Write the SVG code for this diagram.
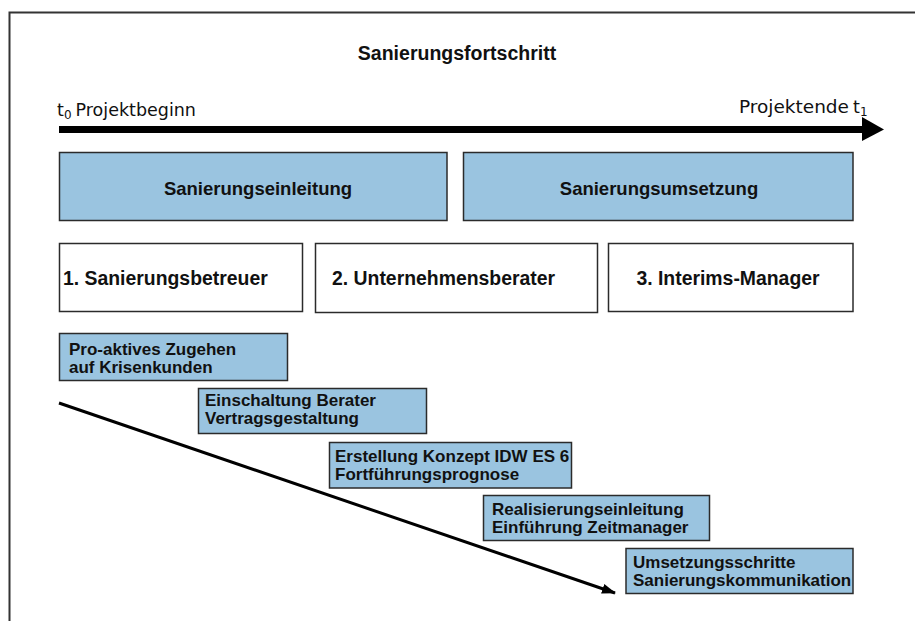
<svg xmlns="http://www.w3.org/2000/svg" width="915" height="621" viewBox="0 0 915 621">
<defs>
<style>
.bold{font-family:"Liberation Sans",Arial,sans-serif;font-weight:bold;fill:#111;}
.reg{font-family:"DejaVu Sans","Liberation Sans",sans-serif;fill:#111;}
.blue{fill:#9AC4E0;stroke:#2b2b2b;stroke-width:1.5;}
.white{fill:#fff;stroke:#2b2b2b;stroke-width:1.5;}
.step{font-size:17px;}
</style>
<marker id="ah" viewBox="0 0 14 10" refX="13" refY="5" markerWidth="14" markerHeight="10" markerUnits="userSpaceOnUse" orient="auto">
<path d="M0,0 L14,5 L0,10 z" fill="#000"/>
</marker>
</defs>
<rect width="915" height="621" fill="#fff"/>
<path d="M9.5,621 V12.5 H915" fill="none" stroke="#333" stroke-width="2"/>

<g id="title">
<text class="bold" x="457" y="60" font-size="19.5" text-anchor="middle">Sanierungsfortschritt</text>
</g>

<g id="timeline">
<rect x="59" y="126" width="806" height="7" fill="#000"/>
<polygon points="862,117 884,129.5 862,141" fill="#000"/>
<text class="reg" x="57" y="116" font-size="17.5">t<tspan font-size="12" dy="3">0</tspan><tspan dy="-3" dx="4">Projektbeginn</tspan></text>
<text class="reg" x="849" y="113" font-size="18.5" text-anchor="end">Projektende</text>
<text class="reg" x="853" y="113" font-size="17.5">t<tspan font-size="12" dy="3">1</tspan></text>
</g>

<g id="phase1">
<rect class="blue" x="59.5" y="152.5" width="387.5" height="68"/>
<text class="bold" x="258" y="195" font-size="18.5" text-anchor="middle">Sanierungseinleitung</text>
</g>
<g id="phase2">
<rect class="blue" x="463.5" y="152.5" width="389.5" height="68"/>
<text class="bold" x="659" y="195" font-size="18.5" text-anchor="middle">Sanierungsumsetzung</text>
</g>

<g id="role1">
<rect class="white" x="59.5" y="243.5" width="243" height="68"/>
<text class="bold" x="63" y="285" font-size="19.4">1. Sanierungsbetreuer</text>
</g>
<g id="role2">
<rect class="white" x="315.5" y="243.5" width="282" height="69"/>
<text class="bold" x="332" y="285" font-size="19.4">2. Unternehmensberater</text>
</g>
<g id="role3">
<rect class="white" x="608.5" y="243.5" width="244.5" height="68"/>
<text class="bold" x="728" y="285" font-size="19.4" text-anchor="middle">3. Interims-Manager</text>
</g>

<g id="connectors">
<line x1="59" y1="403" x2="615" y2="593" stroke="#000" stroke-width="3" marker-end="url(#ah)"/>
</g>

<g id="step1">
<rect class="blue" x="59.5" y="333.5" width="228" height="47"/>
<text class="bold step" x="69" y="355">Pro-aktives Zugehen</text>
<text class="bold step" x="69" y="373">auf Krisenkunden</text>
</g>
<g id="step2">
<rect class="blue" x="198.5" y="388.5" width="228" height="45"/>
<text class="bold step" x="205" y="406">Einschaltung Berater</text>
<text class="bold step" x="205" y="424">Vertragsgestaltung</text>
</g>
<g id="step3">
<rect class="blue" x="329.5" y="442.5" width="242" height="45.5"/>
<text class="bold step" x="335" y="462">Erstellung Konzept IDW ES 6</text>
<text class="bold step" x="335" y="480">Fortführungsprognose</text>
</g>
<g id="step4">
<rect class="blue" x="483.5" y="495.5" width="226" height="45"/>
<text class="bold step" x="492" y="515">Realisierungseinleitung</text>
<text class="bold step" x="492" y="533">Einführung Zeitmanager</text>
</g>
<g id="step5">
<rect class="blue" x="626" y="548.5" width="227" height="45"/>
<text class="bold step" x="633" y="568">Umsetzungsschritte</text>
<text class="bold step" x="633" y="586">Sanierungskommunikation</text>
</g>
</svg>
